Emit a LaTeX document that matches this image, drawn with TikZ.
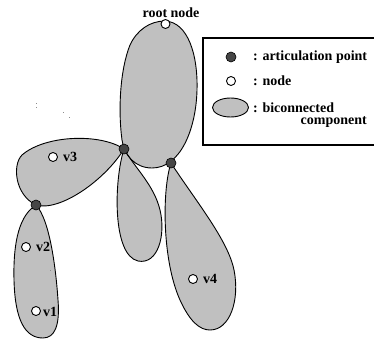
\documentclass[tikz,border=0pt]{standalone}
\usepackage{fontspec}
\setmainfont{Liberation Serif}
\usetikzlibrary{shapes.geometric}
\definecolor{compgray}{RGB}{192,192,192}
\definecolor{artgray}{RGB}{70,70,70}
\begin{document}
\begin{tikzpicture}[x=1pt,y=-1pt,
  comp/.style={fill=compgray},
  outline/.style={draw=black, line width=0.9pt},
  artic/.style={circle, fill=artgray, draw=black, line width=0.6pt, inner sep=0pt, minimum size=10pt},
  vert/.style={circle, fill=white, draw=black, line width=0.9pt, inner sep=0pt, minimum size=9pt},
  lbl/.style={font=\fontsize{14}{16}\selectfont\bfseries, inner sep=0pt},
  speck/.style={fill=black!45}]
\useasboundingbox (0,0) rectangle (374,340);

% component shapes
\def\bigshapepath{(165,21) .. controls (188,22) and (198,55) .. (197,90) .. controls (196,130) and (180,168) .. (152,168) .. controls (135,168) and (124,155) .. (122,140) .. controls (118,110) and (120,70) .. (130,45) .. controls (137,30) and (150,21) .. (165,21) -- cycle}
\def\vthreepath{(124,149) .. controls (100,133) and (45,135) .. (22,155) .. controls (12,165) and (15,195) .. (36,205) .. controls (60,212) and (105,180) .. (124,149) -- cycle}
\def\vonetwopath{(36,205) .. controls (50,220) and (56,270) .. (58,300) .. controls (60,325) and (55,338) .. (43,338) .. controls (25,338) and (15,320) .. (14,280) .. controls (13,240) and (20,215) .. (36,205) -- cycle}
\def\midlobepath{(124,149) .. controls (114,180) and (112,255) .. (138,261) .. controls (158,265) and (166,235) .. (160,210) .. controls (154,185) and (135,168) .. (124,149) -- cycle}
\def\vfourpath{(171,163) .. controls (162,190) and (162,260) .. (180,300) .. controls (190,322) and (200,330) .. (210,330) .. controls (230,330) and (240,300) .. (234,270) .. controls (228,240) and (195,200) .. (171,163) -- cycle}

\fill[comp] \bigshapepath;
\fill[comp] \vthreepath;
\fill[comp] \vonetwopath;
\fill[comp] \midlobepath;
\fill[comp] \vfourpath;
\draw[outline] \bigshapepath;
\draw[outline] \vthreepath;
\draw[outline] \vonetwopath;
\draw[outline] \midlobepath;
\draw[outline] \vfourpath;

% specks
\fill[speck] (35.5,102.5) rectangle (36.5,103.5);
\fill[speck] (35.5,106.5) rectangle (36.5,107.5);
\fill[speck] (62.5,111.5) rectangle (63.5,112.5);
\fill[speck] (68.5,116.5) rectangle (69.5,117.5);
\fill[speck] (49.5,269.5) rectangle (50.5,270.5);

% vertices
\node[vert] (root) at (165.5,24) {};
\node[lbl] (rootlbl) at (171,13) {root node};
\node[artic] (a1) at (124,149) {};
\node[artic] (a2) at (171,163) {};
\node[artic] (a3) at (36,205) {};
\node[vert] (v3) at (53,157) {};
\node[lbl] (v3lbl) at (70,157) {v3};
\node[vert] (v2) at (26,247) {};
\node[lbl] (v2lbl) at (43,247) {v2};
\node[vert] (v1) at (36,311) {};
\node[lbl] (v1lbl) at (50,312) {v1};
\node[vert] (v4) at (193,279) {};
\node[lbl] (v4lbl) at (210,279) {v4};

% legend
\draw[line width=1.5pt, fill=white] (203,38) rectangle (385,145);
\node[artic] (la) at (231,57) {};
\node[lbl, anchor=west] (lat) at (253,57) {: articulation point};
\node[vert] (ln) at (231,81) {};
\node[lbl, anchor=west] (lnt) at (253,81) {: node};
\node[ellipse, draw=black, line width=0.9pt, fill=compgray, minimum width=36pt, minimum height=19pt, inner sep=0pt] (le) at (230.5,107.5) {};
\node[lbl, anchor=west] (lbt) at (253,108) {: biconnected};
\node[lbl, anchor=east] (lct) at (367,122) {component};
\end{tikzpicture}
\end{document}
